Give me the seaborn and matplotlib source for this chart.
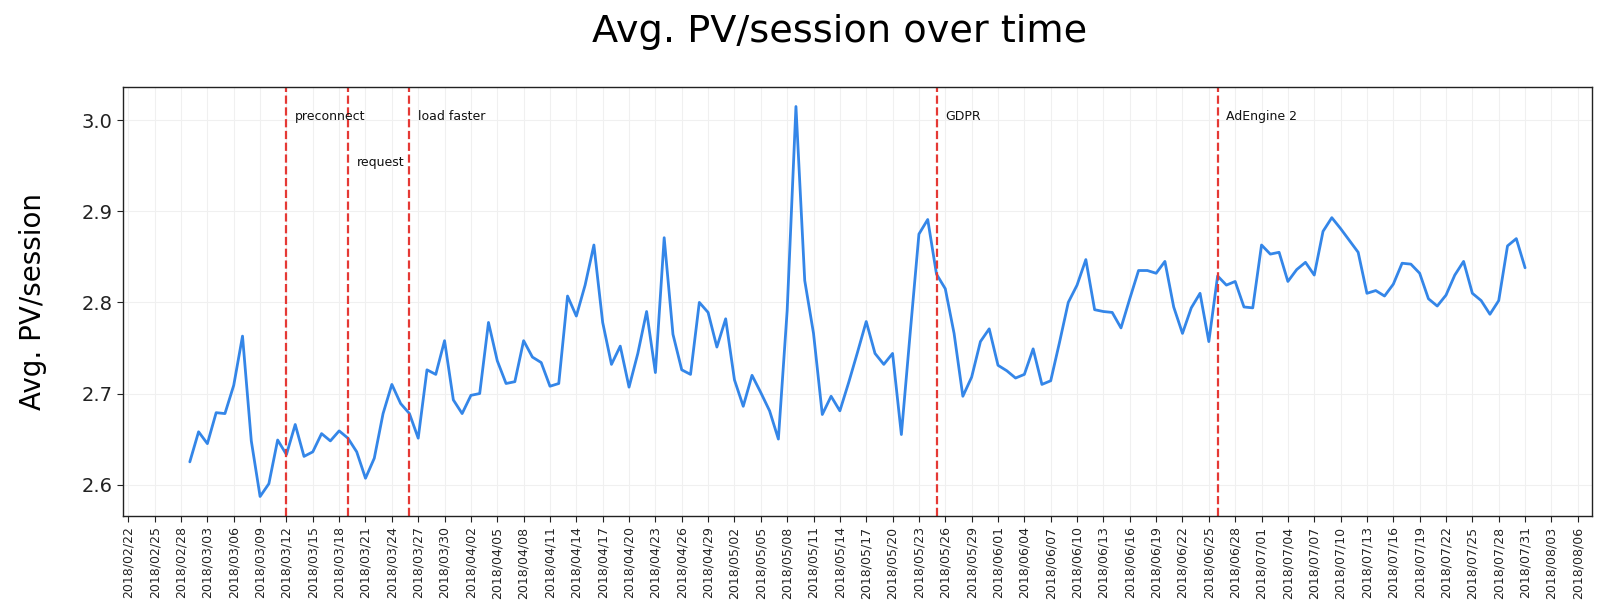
import pandas as pd
import matplotlib
matplotlib.use("Agg")
import matplotlib.pyplot as plt
import matplotlib.dates as mdates
import seaborn as sns

# daily averages, 2018/03/01 .. 2018/07/31
start_date = "2018-03-01"
pv_per_session = [
    2.625, 2.658, 2.645, 2.679, 2.678, 2.709, 2.763, 2.648, 2.587, 2.601,
    2.649, 2.633, 2.666, 2.631, 2.636, 2.656, 2.648, 2.659, 2.651, 2.636,
    2.607, 2.629, 2.678, 2.710, 2.689, 2.678, 2.651, 2.726, 2.721, 2.758,
    2.693, 2.678, 2.698, 2.700, 2.778, 2.736, 2.711, 2.713, 2.758, 2.740,
    2.734, 2.708, 2.711, 2.807, 2.785, 2.819, 2.863, 2.778, 2.732, 2.752,
    2.707, 2.744, 2.790, 2.723, 2.871, 2.765, 2.726, 2.721, 2.800, 2.789,
    2.751, 2.782, 2.715, 2.686, 2.720, 2.701, 2.681, 2.650, 2.791, 3.015,
    2.824, 2.766, 2.677, 2.697, 2.681, 2.712, 2.745, 2.779, 2.744, 2.732,
    2.744, 2.655, 2.766, 2.875, 2.891, 2.831, 2.815, 2.766, 2.697, 2.718,
    2.757, 2.771, 2.731, 2.725, 2.717, 2.721, 2.749, 2.710, 2.714, 2.756,
    2.800, 2.819, 2.847, 2.792, 2.790, 2.789, 2.772, 2.804, 2.835, 2.835,
    2.832, 2.845, 2.795, 2.766, 2.794, 2.810, 2.757, 2.829, 2.819, 2.823,
    2.795, 2.794, 2.863, 2.853, 2.855, 2.823, 2.836, 2.844, 2.830, 2.878,
    2.893, 2.881, 2.868, 2.855, 2.810, 2.813, 2.807, 2.820, 2.843, 2.842,
    2.832, 2.804, 2.796, 2.808, 2.830, 2.845, 2.810, 2.802, 2.787, 2.802,
    2.862, 2.870, 2.838,
]

# releases marked on the chart
event_dates = ["2018-03-12", "2018-03-19", "2018-03-26", "2018-05-25", "2018-06-26"]
event_labels = ["preconnect", "request", "load faster", "GDPR", "AdEngine 2"]
event_label_y = [3.0, 2.95, 3.0, 3.0, 3.0]

tick_start = "2018-02-22"
tick_end = "2018-08-06"

df = pd.DataFrame({
    "date": pd.date_range(start_date, periods=len(pv_per_session), freq="D"),
    "pv": pv_per_session,
})

sns.set_style("whitegrid", {
    "axes.edgecolor": "#222222",
    "grid.color": "#f0f0f0",
    "xtick.bottom": True,
    "ytick.left": True,
    "text.color": "black",
    "axes.labelcolor": "black",
    "xtick.color": "#222222",
    "ytick.color": "#222222",
})
plt.rcParams["font.family"] = ["DejaVu Sans"]

fig = plt.figure(figsize=(16, 6.11), dpi=100)
ax = fig.add_axes([0.0769, 0.1555, 0.918, 0.7021])

sns.lineplot(data=df, x="date", y="pv", ax=ax, color="#3486e8", linewidth=2)

for d, lab, ly in zip(event_dates, event_labels, event_label_y):
    d = pd.Timestamp(d)
    ax.axvline(d, color="#e53935", linestyle="--", linewidth=1.6)
    ax.text(d + pd.Timedelta(days=1), ly, lab, fontsize=9, color="#111111")

ax.set_xticks(pd.date_range(tick_start, tick_end, freq="3D"))
ax.xaxis.set_major_formatter(mdates.DateFormatter("%Y/%m/%d"))
ax.tick_params(axis="x", rotation=90, labelsize=9, length=4)
ax.tick_params(axis="y", labelsize=14, length=4)
ax.set_yticks([2.6, 2.7, 2.8, 2.9, 3.0])

ax.set_xlabel("")
ax.set_ylabel("Avg. PV/session", fontsize=20)
ax.yaxis.set_label_coords(-0.052, 0.5)
for sp in ax.spines.values():
    sp.set_linewidth(1.0)

fig.text(0.5247, 0.948, "Avg. PV/session over time", fontsize=27.5,
         ha="center", va="center")

fig.savefig("out.png", dpi=100)
